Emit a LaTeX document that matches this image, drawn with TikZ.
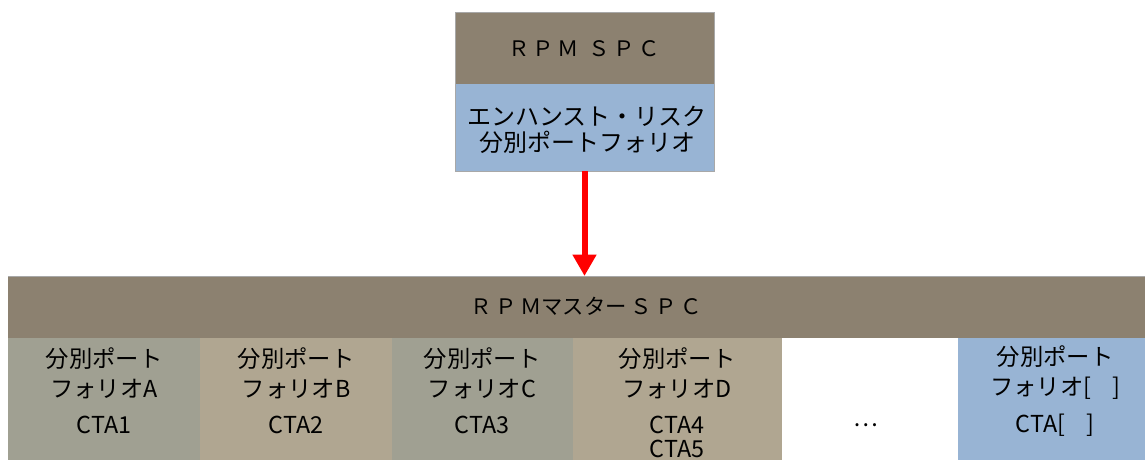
\documentclass[tikz,border=0pt]{standalone}
\usepackage{fontspec}
\setmainfont{Noto Sans CJK JP}
\usetikzlibrary{arrows.meta}
\definecolor{brownhdr}{HTML}{8C8170}
\definecolor{bluebox}{HTML}{98B4D4}
\definecolor{colA}{HTML}{A0A092}
\definecolor{colB}{HTML}{B0A691}
\definecolor{edgegray}{HTML}{A8A8A8}
\begin{document}
\begin{tikzpicture}[x=0.75pt,y=-0.75pt,
  box/.style={draw=none,inner sep=0pt,outer sep=0pt,anchor=north west},
  txt/.style={font=\fontsize{16pt}{19pt}\selectfont,text=black,inner sep=0pt,align=center},
  ctxt/.style={font=\fontsize{17.5pt}{22.5pt}\selectfont,text=black,inner sep=0pt,align=center},
  btxt/.style={font=\fontsize{18pt}{19.5pt}\selectfont,text=black,inner sep=0pt,align=center},
  flow/.style={draw=red,line width=4.5pt,-{Triangle[length=16pt,width=17pt]}}]
\useasboundingbox (0,0) rectangle (1145,460);
% top box
\node[box,fill=brownhdr,minimum width=259*0.75pt,minimum height=72*0.75pt] (rpmspc) at (455,12) {};
\node[box,fill=bluebox,minimum width=259*0.75pt,minimum height=87*0.75pt] (enh) at (455,84) {};
\draw[edgegray,line width=0.6pt] (rpmspc.north west) rectangle (enh.south east);
\node[txt] (t1) at (584,49) {Ｒ\,Ｐ\,Ｍ\ \ Ｓ\,Ｐ\,Ｃ};
\node[btxt] (t2) at (587,130) {エンハンスト・リスク\\分別ポートフォリオ};
% master band
\node[box,fill=brownhdr,minimum width=1140*0.75pt,minimum height=62*0.75pt] (master) at (8,276) {};
\node[txt] (t3) at (586,306) {Ｒ\,Ｐ\,Ｍマスター\,Ｓ\,Ｐ\,Ｃ};
% columns
\node[box,fill=colA,minimum width=192*0.75pt,minimum height=124*0.75pt] (cA) at (8,338) {};
\node[box,fill=colB,minimum width=192*0.75pt,minimum height=124*0.75pt] (cB) at (200,338) {};
\node[box,fill=colA,minimum width=181*0.75pt,minimum height=124*0.75pt] (cC) at (392,338) {};
\node[box,fill=colB,minimum width=209*0.75pt,minimum height=124*0.75pt] (cD) at (573,338) {};
\node[box,fill=white,minimum width=176*0.75pt,minimum height=124*0.75pt] (cE) at (782,338) {};
\node[box,fill=bluebox,minimum width=190*0.75pt,minimum height=124*0.75pt] (cF) at (958,338) {};
\draw[edgegray,line width=0.6pt] (master.north west) -- (master.north east);
% column texts
\node[ctxt] (a1) at (104,373) {分別ポート\\フォリオA};
\node[ctxt] (a2) at (104,425) {CTA1};
\node[ctxt] (b1) at (296,373) {分別ポート\\フォリオB};
\node[ctxt] (b2) at (296,425) {CTA2};
\node[ctxt] (c1) at (482,373) {分別ポート\\フォリオC};
\node[ctxt] (c2) at (482,425) {CTA3};
\node[ctxt] (d1) at (677,373) {分別ポート\\フォリオD};
\node[ctxt] (d2) at (677,425) {CTA4};
\node[ctxt] (d3) at (677,449) {CTA5};
\node[ctxt] (e1) at (866,425) {…};
\node[ctxt] (f1) at (1055,373) {分別ポート\\フォリオ[\ \ \ \ ]};
\node[ctxt] (f2) at (1055,425) {CTA[\ \ \ \ ]};
% arrow
\draw[flow] (enh.south) -- (master.north -| enh.south);
\end{tikzpicture}
\end{document}
